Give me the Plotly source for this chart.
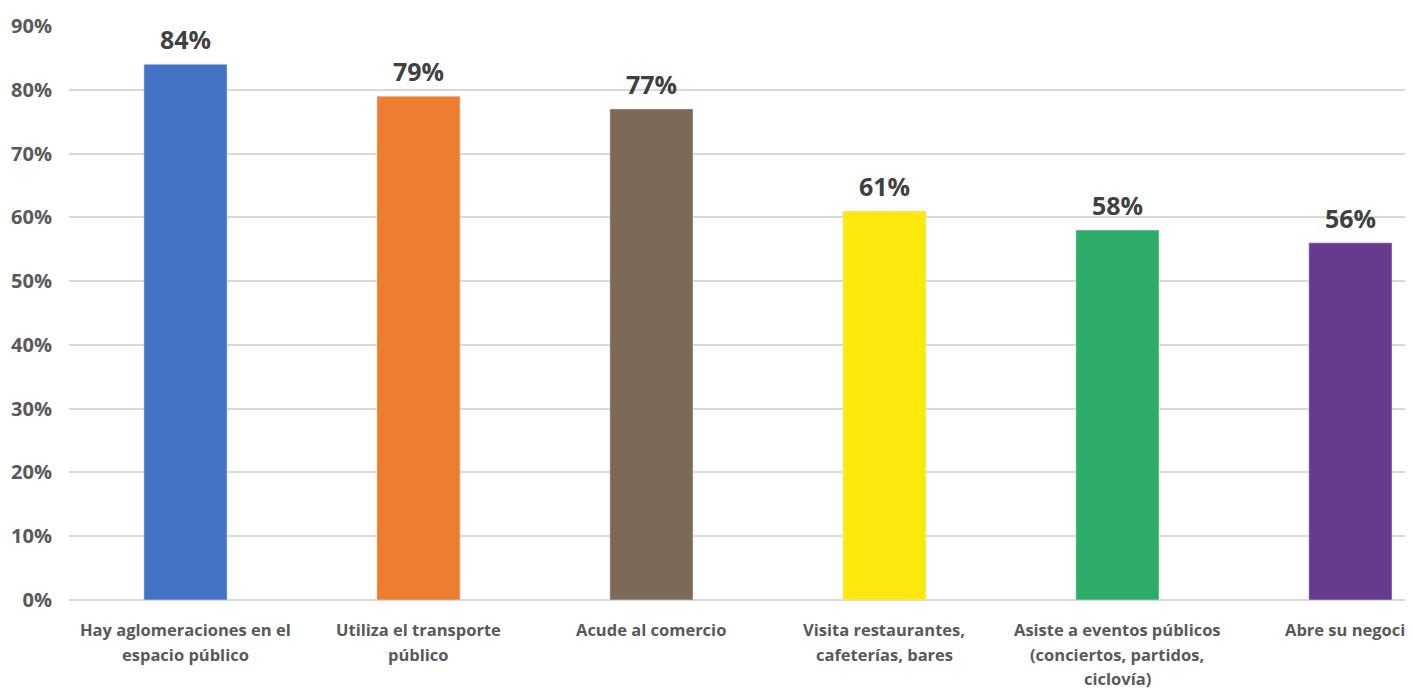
import plotly.graph_objects as go

categories = [
    "Hay aglomeraciones en el<br>espacio público",
    "Utiliza el transporte<br>público",
    "Acude al comercio",
    "Visita restaurantes,<br>cafeterías, bares",
    "Asiste a eventos públicos<br>(conciertos, partidos,<br>ciclovía)",
    "Abre su negocio",
]
values = [0.84, 0.79, 0.77, 0.61, 0.58, 0.56]
labels = ["84%", "79%", "77%", "61%", "58%", "56%"]
colors = ["#4472C4", "#ED7D31", "#7B6A58", "#FDE910", "#2EAC69", "#663A8C"]

FONT = "Open Sans"

fig = go.Figure()
fig.add_trace(
    go.Bar(x=categories,
           y=values,
           marker=dict(color=colors),
           width=0.357))

# value labels above bars
for cat, v, lab in zip(categories, values, labels):
    fig.add_annotation(x=cat, y=v, text=lab, showarrow=False,
                       yanchor="bottom", yshift=6,
                       font=dict(size=25, family=FONT, weight="bold", color="#404040"))

# category labels, one annotation per line so the line spacing matches
for cat in categories:
    for i, line in enumerate(cat.split("<br>")):
        fig.add_annotation(x=cat, y=0, text=line, showarrow=False,
                           yanchor="top", yshift=-16 - 24.5 * i,
                           font=dict(size=16.5, family=FONT, weight="bold", color="#595959"))

# page body has an 8px margin, so margins are trimmed to compensate
fig.update_layout(
    width=1413,
    height=690,
    paper_bgcolor="white",
    plot_bgcolor="white",
    margin=dict(l=61, r=0, t=18, b=98),
    showlegend=False,
    font=dict(family=FONT, color="#595959"),
)
fig.update_yaxes(range=[0, 0.9],
                 dtick=0.1,
                 tickformat=".0%",
                 automargin=False,
                 showgrid=True,
                 gridcolor="#D9D9D9",
                 gridwidth=1.5,
                 zeroline=True,
                 zerolinecolor="#D9D9D9",
                 zerolinewidth=2,
                 tickfont=dict(size=20, family=FONT, weight="bold", color="#595959"),
                 ticklabelstandoff=16)
fig.update_xaxes(range=[-0.5, 5.303],
                 automargin=False,
                 showgrid=False,
                 showticklabels=False)

fig.write_html("out.html")
